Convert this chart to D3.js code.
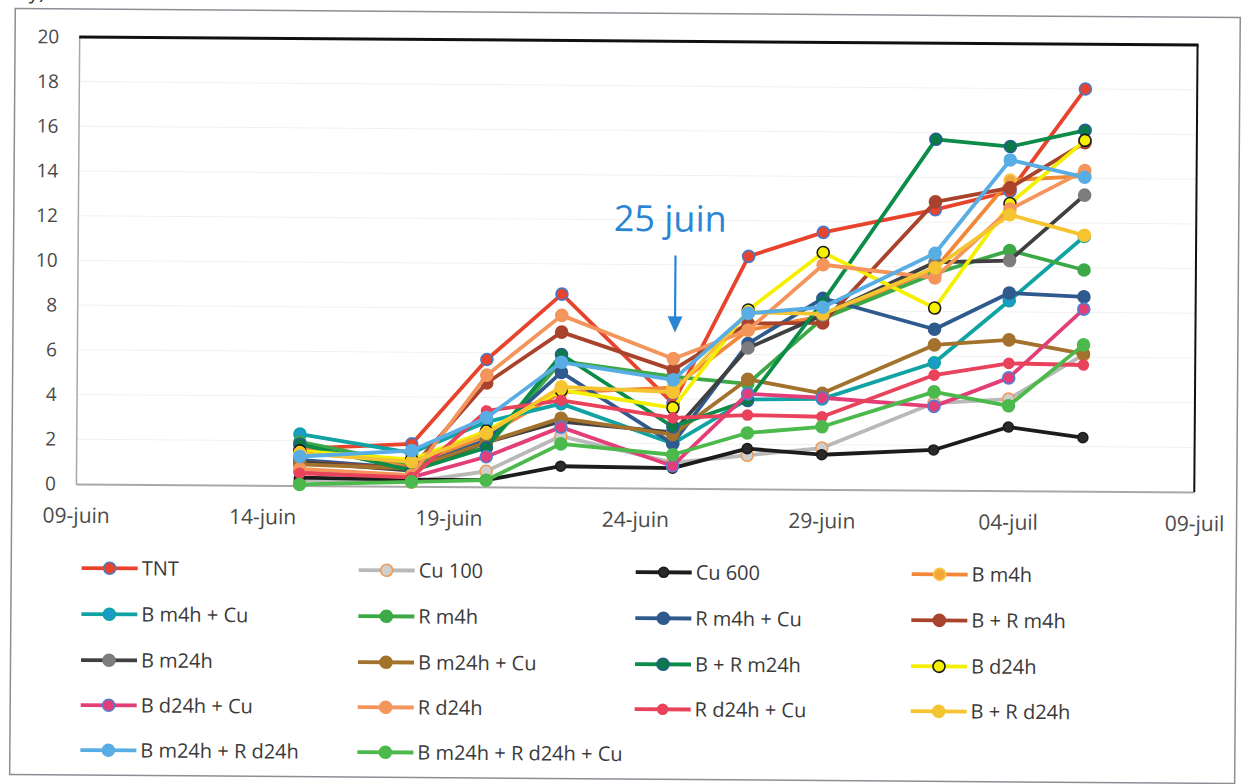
<!DOCTYPE html>
<html>
<head>
<meta charset="utf-8">
<script src="https://cdn.jsdelivr.net/npm/d3@7/dist/d3.min.js"></script>
<style>
  html, body { margin: 0; padding: 0; background: #ffffff; }
  svg { display: block; }
  text { font-family: "Open Sans", Lato, sans-serif; }
</style>
</head>
<body>
<svg id="chart" width="1242" height="784"></svg>
<script>
// Sampling dates and axis ticks
const sampleDates = ["2021-06-15", "2021-06-18", "2021-06-20", "2021-06-22", "2021-06-25",
                     "2021-06-27", "2021-06-29", "2021-07-02", "2021-07-04", "2021-07-06"];
const tickDates = ["2021-06-09", "2021-06-14", "2021-06-19", "2021-06-24", "2021-06-29", "2021-07-04", "2021-07-09"];
const tickLabels = ["09-juin", "14-juin", "19-juin", "24-juin", "29-juin", "04-juil", "09-juil"];
const yTicks = [0, 2, 4, 6, 8, 10, 12, 14, 16, 18, 20];

// Series values, one per treatment
const tnt        = [1.65, 1.9, 5.7, 8.65, 3.8, 10.4, 11.5, 12.55, 13.4, 18.0];
const cu100      = [0.25, 0.2, 0.7, 2.3, 1.15, 1.5, 1.85, 3.9, 4.1, 6.1];
const cu600      = [0.35, 0.3, 0.3, 0.95, 0.9, 1.8, 1.55, 1.8, 2.85, 2.4];
const bm4h       = [1.75, 0.9, 2.3, 4.25, 4.5, 7.1, 7.75, 9.9, 13.9, 14.1];
const bm4hCu     = [2.3, 1.5, 2.9, 3.75, 2.0, 4.0, 4.05, 5.7, 8.5, 11.4];
const rm4h       = [1.95, 1.0, 1.75, 5.65, 5.0, 4.7, 7.65, 9.7, 10.75, 9.9];
const rm4hCu     = [1.15, 0.8, 2.1, 5.15, 2.0, 6.5, 8.55, 7.2, 8.85, 8.7];
const brm4h      = [1.05, 0.8, 4.65, 6.95, 5.3, 7.4, 7.45, 12.9, 13.55, 15.6];
const bm24h      = [1.05, 0.7, 2.0, 2.95, 2.5, 6.3, 7.8, 10.2, 10.3, 13.25];
const bm24hCu    = [0.95, 0.8, 2.0, 3.1, 2.4, 4.9, 4.3, 6.5, 6.75, 6.15];
const brm24h     = [1.85, 0.7, 1.75, 5.95, 2.75, 3.95, 8.4, 15.7, 15.4, 16.15];
const bd24h      = [1.55, 1.2, 2.5, 4.35, 3.6, 8.0, 10.6, 8.15, 12.85, 15.7];
const bd24hCu    = [0.65, 0.4, 1.35, 2.7, 1.0, 4.25, 4.1, 3.75, 5.05, 8.15];
const rd24h      = [0.75, 0.5, 5.0, 7.7, 5.8, 7.1, 10.05, 9.5, 12.6, 14.35];
const rd24hCu    = [0.55, 0.4, 3.4, 3.9, 3.15, 3.3, 3.25, 5.15, 5.7, 5.65];
const brd24h     = [1.45, 1.1, 2.4, 4.5, 4.3, 7.9, 7.85, 9.95, 12.35, 11.45];
const bm24hRd24h = [1.3, 1.6, 3.1, 5.6, 4.85, 7.85, 8.15, 10.6, 14.8, 14.05];
const bm24hRd24hCu = [0.05, 0.2, 0.3, 1.95, 1.5, 2.5, 2.8, 4.4, 3.8, 6.55];

const seriesNames = ["TNT", "Cu 100", "Cu 600", "B m4h",
                     "B m4h + Cu", "R m4h", "R m4h + Cu", "B + R m4h",
                     "B m24h", "B m24h + Cu", "B + R m24h", "B d24h",
                     "B d24h + Cu", "R d24h", "R d24h + Cu", "B + R d24h",
                     "B m24h + R d24h", "B m24h + R d24h + Cu"];
const seriesValues = [tnt, cu100, cu600, bm4h, bm4hCu, rm4h, rm4hCu, brm4h,
                      bm24h, bm24hCu, brm24h, bd24h, bd24hCu, rd24h, rd24hCu, brd24h,
                      bm24hRd24h, bm24hRd24hCu];

// Line and marker styling per treatment
const styles = {
  "TNT":                  { line: "#e8432d", fill: "#e8432d", stroke: "#4a78c8", r: 6 },
  "Cu 100":               { line: "#b9b9b9", fill: "#cfcfcf", stroke: "#f09a55", r: 6 },
  "Cu 600":               { line: "#1c1c1c", fill: "#2a2a2a", stroke: "#1c1c1c", r: 5 },
  "B m4h":                { line: "#f08838", fill: "#f5a63a", stroke: "#f7c948", r: 6 },
  "B m4h + Cu":           { line: "#10a3a3", fill: "#1b9cc8", stroke: "#10a3a3", r: 6 },
  "R m4h":                { line: "#3ca946", fill: "#3ca946", stroke: "#3ca946", r: 6 },
  "R m4h + Cu":           { line: "#2f5a8e", fill: "#2f5a8e", stroke: "#2f5a8e", r: 6 },
  "B + R m4h":            { line: "#a9432c", fill: "#a9432c", stroke: "#a9432c", r: 6 },
  "B m24h":               { line: "#404040", fill: "#7d7d7d", stroke: "#7d7d7d", r: 6 },
  "B m24h + Cu":          { line: "#a3722c", fill: "#a3722c", stroke: "#a3722c", r: 6 },
  "B + R m24h":           { line: "#0b8c48", fill: "#0b7a46", stroke: "#235f94", r: 6 },
  "B d24h":               { line: "#f4f000", fill: "#f4f000", stroke: "#1b1b1b", r: 6 },
  "B d24h + Cu":          { line: "#e43e78", fill: "#e43e78", stroke: "#4f7fd2", r: 6 },
  "R d24h":               { line: "#f4955c", fill: "#f4955c", stroke: "#f4955c", r: 6 },
  "R d24h + Cu":          { line: "#e9425b", fill: "#e9425b", stroke: "#e9425b", r: 5 },
  "B + R d24h":           { line: "#f6c430", fill: "#f6c430", stroke: "#f6c430", r: 6 },
  "B m24h + R d24h":      { line: "#58ade4", fill: "#58ade4", stroke: "#58ade4", r: 6 },
  "B m24h + R d24h + Cu": { line: "#4cb94c", fill: "#4cb94c", stroke: "#4cb94c", r: 6 }
};

const parse = d3.timeParse("%Y-%m-%d");
const dates = sampleDates.map(parse);

const svg = d3.select("#chart");
// the whole sheet sits very slightly skewed on the page
const root = svg.append("g").attr("transform", "rotate(0.42, 621, 392)");

// outer chart frame
root.append("rect")
  .attr("x", 12.5).attr("y", 13).attr("width", 1225).attr("height", 766)
  .attr("fill", "none").attr("stroke", "#8a8f96").attr("stroke-width", 1.5);

// a glyph of the caption above, clipped by the page edge
root.append("text").attr("x", 26).attr("y", 3).attr("font-size", 20).attr("fill", "#333").text("y)");

const plot = { left: 76.6, right: 1195, top: 40.9, bottom: 487.9 };

const x = d3.scaleTime()
  .domain([parse(tickDates[0]), parse(tickDates[tickDates.length - 1])])
  .range([plot.left, plot.right]);
const y = d3.scaleLinear().domain([0, 20]).range([plot.bottom, plot.top]);

// faint horizontal gridlines
root.append("g").selectAll("line").data(yTicks.filter(v => v > 0 && v < 20)).join("line")
  .attr("x1", plot.left).attr("x2", plot.right)
  .attr("y1", d => y(d)).attr("y2", d => y(d))
  .attr("stroke", "#f1f1f1").attr("stroke-width", 1);

// Y axis
const yAxis = root.append("g").attr("transform", `translate(${plot.left},0)`)
  .call(d3.axisLeft(y).tickValues(yTicks).tickSize(0).tickPadding(20));
yAxis.select(".domain").attr("stroke", "#a8a8a8").attr("stroke-width", 1.5);
yAxis.selectAll("text").attr("font-size", 19).attr("fill", "#4a4a4a")
  .attr("font-family", "'Open Sans', sans-serif");

// X axis
const xAxis = root.append("g").attr("transform", `translate(0,${plot.bottom})`)
  .call(d3.axisBottom(x).tickValues(tickDates.map(parse)).tickFormat((d, i) => tickLabels[i])
        .tickSize(0).tickPadding(24));
xAxis.select(".domain").attr("stroke", "#a8a8a8").attr("stroke-width", 2);
xAxis.selectAll("text").attr("font-size", 21).attr("fill", "#4a4a4a")
  .attr("font-family", "'Open Sans', sans-serif");

// black frame on the top and right of the plot area
root.append("line").attr("x1", plot.left).attr("x2", plot.right + 1)
  .attr("y1", plot.top).attr("y2", plot.top).attr("stroke", "#111").attr("stroke-width", 3);
root.append("line").attr("x1", plot.right).attr("x2", plot.right)
  .attr("y1", plot.top).attr("y2", plot.bottom).attr("stroke", "#111").attr("stroke-width", 2);

// series lines and markers
const line = d3.line().x((d, i) => x(dates[i])).y(d => y(d));
const seriesG = root.append("g");
seriesNames.forEach((name, k) => {
  const st = styles[name];
  const vals = seriesValues[k];
  const g = seriesG.append("g");
  g.append("path").attr("d", line(vals)).attr("fill", "none")
    .attr("stroke", st.line).attr("stroke-width", 3.8)
    .attr("stroke-linejoin", "round").attr("stroke-linecap", "round");
  g.selectAll("circle").data(vals).join("circle")
    .attr("cx", (d, i) => x(dates[i])).attr("cy", d => y(d))
    .attr("r", st.r).attr("fill", st.fill)
    .attr("stroke", st.stroke).attr("stroke-width", 1.6);
});

// annotation: treatment date
root.append("text").attr("x", 669).attr("y", 231).attr("text-anchor", "middle")
  .attr("font-size", 36).attr("fill", "#2a85d4").text("25 juin");
root.append("line").attr("x1", 674.5).attr("x2", 674.5).attr("y1", 255).attr("y2", 318)
  .attr("stroke", "#2a85d4").attr("stroke-width", 2.2);
root.append("path").attr("d", "M667,316 L682,316 L674.5,332 Z").attr("fill", "#2a85d4");

// legend, four columns
const legendCols = [83, 360, 637, 913];
const legendRows = [572, 618, 664, 709, 754];
const legend = root.append("g");
seriesNames.forEach((name, k) => {
  const st = styles[name];
  const lx = legendCols[k % 4];
  const ly = legendRows[Math.floor(k / 4)];
  const g = legend.append("g").attr("transform", `translate(${lx},${ly})`);
  g.append("line").attr("x1", 0).attr("x2", 56).attr("y1", 0).attr("y2", 0)
    .attr("stroke", st.line).attr("stroke-width", 3.8);
  g.append("circle").attr("cx", 28).attr("cy", 0).attr("r", st.r)
    .attr("fill", st.fill).attr("stroke", st.stroke).attr("stroke-width", 1.6);
  g.append("text").attr("x", 60).attr("y", 7).attr("font-size", 20)
    .attr("fill", "#3a3a3a").text(name);
});
</script>
</body>
</html>
